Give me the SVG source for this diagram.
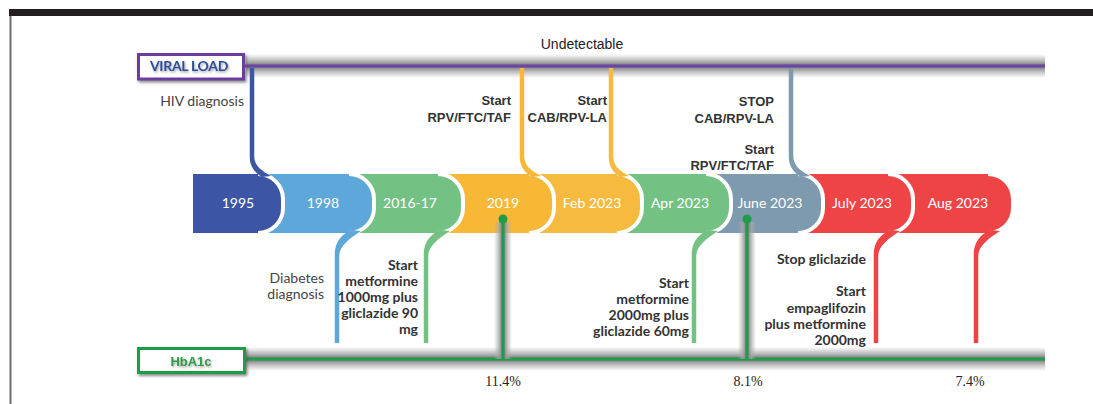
<svg xmlns="http://www.w3.org/2000/svg" width="1093" height="404" viewBox="0 0 1093 404">
<style>
.seg{font-family:Lato,"Noto Sans",sans-serif;font-size:14px;fill:#ffffff;text-anchor:middle}
.top{font-family:"Liberation Sans",Arial,sans-serif;font-weight:bold;font-size:13px;fill:#333333;text-anchor:end}
.lbl{font-family:Lato,"Noto Sans",sans-serif;font-size:14px;fill:#444444;text-anchor:end}
.bld{font-family:Lato,"Noto Sans",sans-serif;font-weight:bold;font-size:14px;fill:#333333;text-anchor:end}
.pct{font-family:"Liberation Serif","Times New Roman",serif;font-size:14px;fill:#222222;text-anchor:middle}
.gap{fill:none;stroke:#ffffff;stroke-width:4}
</style>
<defs>
<linearGradient id="hband" x1="0" y1="0" x2="0" y2="1">
<stop offset="0" stop-color="#b0b0b0" stop-opacity="0"/>
<stop offset="0.25" stop-color="#a8a8a8" stop-opacity="0.7"/>
<stop offset="0.45" stop-color="#7f7f7f" stop-opacity="1"/>
<stop offset="0.55" stop-color="#7f7f7f" stop-opacity="1"/>
<stop offset="0.75" stop-color="#a8a8a8" stop-opacity="0.7"/>
<stop offset="1" stop-color="#b0b0b0" stop-opacity="0"/>
</linearGradient>
<linearGradient id="vband" x1="0" y1="0" x2="1" y2="0">
<stop offset="0" stop-color="#b0b0b0" stop-opacity="0"/>
<stop offset="0.25" stop-color="#a8a8a8" stop-opacity="0.7"/>
<stop offset="0.45" stop-color="#7f7f7f" stop-opacity="1"/>
<stop offset="0.55" stop-color="#7f7f7f" stop-opacity="1"/>
<stop offset="0.75" stop-color="#a8a8a8" stop-opacity="0.7"/>
<stop offset="1" stop-color="#b0b0b0" stop-opacity="0"/>
</linearGradient>
<filter id="sh" x="-20%" y="-40%" width="140%" height="180%">
<feDropShadow dx="1.5" dy="2" stdDeviation="1.8" flood-color="#555555" flood-opacity="0.7"/>
</filter>
<filter id="tsh" x="-10%" y="-30%" width="120%" height="160%">
<feDropShadow dx="1" dy="1.5" stdDeviation="1" flood-color="#666666" flood-opacity="0.6"/>
</filter>
</defs>

<!-- frame -->
<rect x="9" y="9" width="1084" height="7" fill="#231f20"/>
<line x1="10.5" y1="16" x2="10.5" y2="404" stroke="#6d6d6d" stroke-width="2"/>

<!-- connectors -->
<g id="connectors">
<rect x="246" y="54" width="799" height="24" fill="url(#hband)"/>
<line x1="244" y1="66" x2="1045" y2="66" stroke="#6a45a6" stroke-width="3"/>
<rect x="246" y="347" width="799" height="24" fill="url(#hband)"/>
<line x1="244" y1="359" x2="1045" y2="359" stroke="#1e9c48" stroke-width="3"/>
</g>

<!-- timeline segments (drawn right to left) -->
<g id="seg-aug">
<path d="M883,174 H988 A25 25 0 0 1 1013,199 V208 A25 25 0 0 1 988,233 H883 Z" fill="#ee4446"/>
<path class="gap" d="M988,174 A25 25 0 0 1 1013,199 V208 A25 25 0 0 1 988,233"/>
<path d="M973.75,343 H978.25 V256 C978.25,246 989,238 1000,231 L991,230 C983,233 973.75,240 973.75,255 Z" fill="#ee4446"/>
<text class="seg" x="958" y="208">Aug 2023</text>
</g>
<g id="seg-july">
<path d="M793,174 H888 A25 25 0 0 1 913,199 V208 A25 25 0 0 1 888,233 H793 Z" fill="#ee4446"/>
<path class="gap" d="M888,174 A25 25 0 0 1 913,199 V208 A25 25 0 0 1 888,233"/>
<path d="M873.75,343 H878.25 V256 C878.25,246 889,238 900,231 L891,230 C883,233 873.75,240 873.75,255 Z" fill="#ee4446"/>
<text class="seg" x="862" y="208">July 2023</text>
</g>
<g id="seg-june">
<path d="M701,174 H798 A25 25 0 0 1 823,199 V208 A25 25 0 0 1 798,233 H701 Z" fill="#7d9aae"/>
<path class="gap" d="M798,174 A25 25 0 0 1 823,199 V208 A25 25 0 0 1 798,233"/>
<path d="M788.75,68 H793.25 V156 C793.25,166 801,171 810,176 L801,177 C796,174 788.75,168 788.75,157 Z" fill="#7d9aae"/>
<text class="seg" x="770" y="208">June 2023</text>
</g>
<g id="seg-apr">
<path d="M612,174 H706 A25 25 0 0 1 731,199 V208 A25 25 0 0 1 706,233 H612 Z" fill="#74c283"/>
<path class="gap" d="M706,174 A25 25 0 0 1 731,199 V208 A25 25 0 0 1 706,233"/>
<path d="M691.75,343 H696.25 V256 C696.25,246 707,238 718,231 L709,230 C701,233 691.75,240 691.75,255 Z" fill="#74c283"/>
<text class="seg" x="680" y="208">Apr 2023</text>
</g>
<g id="seg-feb">
<path d="M524,174 H617 A25 25 0 0 1 642,199 V208 A25 25 0 0 1 617,233 H524 Z" fill="#f5ba3e"/>
<path class="gap" d="M617,174 A25 25 0 0 1 642,199 V208 A25 25 0 0 1 617,233"/>
<path d="M608.75,68 H613.25 V156 C613.25,166 620,171 629,176 L620,177 C615,174 608.75,168 608.75,157 Z" fill="#f5ba3e"/>
<text class="seg" x="592" y="208">Feb 2023</text>
</g>
<g id="seg-2019">
<path d="M433,174 H529 A25 25 0 0 1 554,199 V208 A25 25 0 0 1 529,233 H433 Z" fill="#f7b838"/>
<path class="gap" d="M529,174 A25 25 0 0 1 554,199 V208 A25 25 0 0 1 529,233"/>
<path d="M519.75,68 H524.25 V156 C524.25,166 532,171 541,176 L532,177 C527,174 519.75,168 519.75,157 Z" fill="#f7b838"/>
<text class="seg" x="503" y="208">2019</text>
</g>
<g id="seg-2016">
<path d="M344,174 H438 A25 25 0 0 1 463,199 V208 A25 25 0 0 1 438,233 H344 Z" fill="#74c283"/>
<path class="gap" d="M438,174 A25 25 0 0 1 463,199 V208 A25 25 0 0 1 438,233"/>
<path d="M423.75,343 H428.25 V256 C428.25,246 439,238 450,231 L441,230 C433,233 423.75,240 423.75,255 Z" fill="#74c283"/>
<text class="seg" x="410" y="208">2016-17</text>
</g>
<g id="seg-1998">
<path d="M253,174 H349 A25 25 0 0 1 374,199 V208 A25 25 0 0 1 349,233 H253 Z" fill="#5da7da"/>
<path class="gap" d="M349,174 A25 25 0 0 1 374,199 V208 A25 25 0 0 1 349,233"/>
<path d="M334.75,343 H339.25 V256 C339.25,246 350,238 361,231 L352,230 C344,233 334.75,240 334.75,255 Z" fill="#5da7da"/>
<text class="seg" x="323" y="208">1998</text>
</g>
<g id="seg-1995">
<path d="M193,174 H258 A25 25 0 0 1 283,199 V208 A25 25 0 0 1 258,233 H193 Z" fill="#3c56a5"/>
<path class="gap" d="M258,174 A25 25 0 0 1 283,199 V208 A25 25 0 0 1 258,233"/>
<path d="M249.75,68 H254.25 V156 C254.25,166 262,171 271,176 L262,177 C257,174 249.75,168 249.75,157 Z" fill="#3c56a5"/>
<text class="seg" x="238" y="208">1995</text>
</g>

<!-- HbA1c markers -->
<g id="marker-2019">
<rect x="494" y="222" width="18" height="137" fill="url(#vband)"/>
<line x1="503" y1="219" x2="503" y2="359" stroke="#1e9c48" stroke-width="3"/>
<circle cx="503" cy="219" r="4.5" fill="#1e9c48"/>
</g>
<g id="marker-june">
<rect x="738" y="222" width="18" height="137" fill="url(#vband)"/>
<line x1="747" y1="219" x2="747" y2="359" stroke="#1e9c48" stroke-width="3"/>
<circle cx="747" cy="219" r="4.5" fill="#1e9c48"/>
</g>

<!-- boxes -->
<g id="viral-load">
<rect x="138.5" y="54.5" width="105" height="24.5" fill="#ffffff" stroke="#6a3d9e" stroke-width="3" filter="url(#sh)"/>
<text x="189" y="71" filter="url(#tsh)" style="font-family:Lato,'Noto Sans',sans-serif;font-weight:bold;font-size:14px;fill:#2d4e9f;text-anchor:middle;letter-spacing:-0.3px">VIRAL LOAD</text>
</g>
<g id="hba1c">
<rect x="138.5" y="348.5" width="106" height="24" fill="#ffffff" stroke="#1e9c48" stroke-width="3" filter="url(#sh)"/>
<text x="191" y="366" filter="url(#tsh)" style="font-family:'Liberation Sans',Arial,sans-serif;font-weight:bold;font-size:13px;fill:#2a9d4a;text-anchor:middle">HbA1c</text>
</g>

<!-- labels -->
<g id="labels-top">
<text x="582" y="49" style="font-family:'Liberation Sans',Arial,sans-serif;font-size:14px;fill:#222222;text-anchor:middle">Undetectable</text>
<text class="lbl" x="244" y="106">HIV diagnosis</text>
<text class="top" x="511" y="105">Start</text>
<text class="top" x="511" y="122">RPV/FTC/TAF</text>
<text class="top" x="607" y="105">Start</text>
<text class="top" x="607" y="122">CAB/RPV-LA</text>
<text class="top" x="774" y="106">STOP</text>
<text class="top" x="774" y="123">CAB/RPV-LA</text>
<text class="top" x="774" y="154">Start</text>
<text class="top" x="774" y="170">RPV/FTC/TAF</text>
</g>
<g id="labels-bottom">
<text class="lbl" x="324" y="283">Diabetes</text>
<text class="lbl" x="324" y="299">diagnosis</text>
<text class="bld" x="418" y="270">Start</text>
<text class="bld" x="418" y="286">metformine</text>
<text class="bld" x="418" y="302">1000mg plus</text>
<text class="bld" x="418" y="318">gliclazide 90</text>
<text class="bld" x="418" y="334">mg</text>
<text class="bld" x="689" y="288">Start</text>
<text class="bld" x="689" y="304">metformine</text>
<text class="bld" x="689" y="320">2000mg plus</text>
<text class="bld" x="689" y="336">gliclazide 60mg</text>
<text class="bld" x="866" y="264">Stop gliclazide</text>
<text class="bld" x="866" y="296">Start</text>
<text class="bld" x="866" y="312.5">empaglifozin</text>
<text class="bld" x="866" y="329">plus metformine</text>
<text class="bld" x="866" y="345">2000mg</text>
</g>
<g id="percent">
<text class="pct" x="503" y="386">11.4%</text>
<text class="pct" x="748" y="386">8.1%</text>
<text class="pct" x="970" y="386">7.4%</text>
</g>
</svg>
